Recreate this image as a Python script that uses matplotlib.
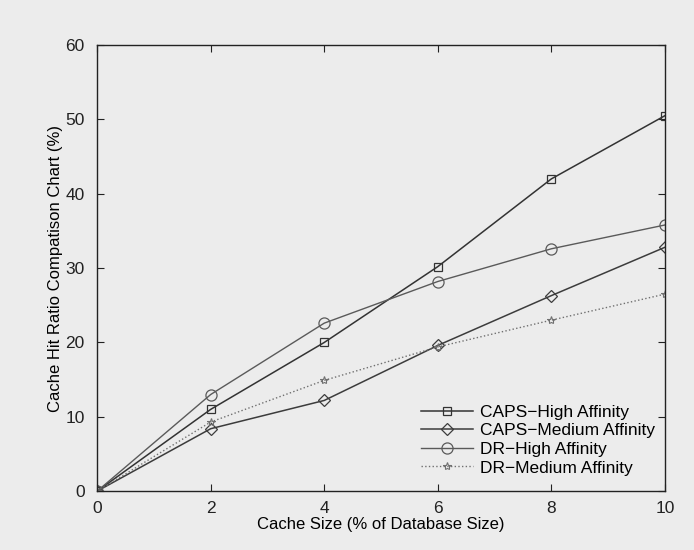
import matplotlib
matplotlib.use("Agg")
import matplotlib.pyplot as plt

x = [0, 2, 4, 6, 8, 10]
caps_high = [0, 11.0, 20.0, 30.2, 42.0, 50.5]
caps_med = [0, 8.4, 12.2, 19.6, 26.3, 32.8]
dr_high = [0, 13.0, 22.6, 28.2, 32.6, 35.8]
dr_med = [0, 9.3, 14.9, 19.4, 23.0, 26.5]
labels = ["CAPS\u2212High Affinity", "CAPS\u2212Medium Affinity",
          "DR\u2212High Affinity", "DR\u2212Medium Affinity"]

plt.rcParams['font.family'] = ['Liberation Sans', 'DejaVu Sans']
bg = "#ececec"
fig = plt.figure(figsize=(6.94, 5.5), dpi=100, facecolor=bg)
ax = fig.add_axes([0.140, 0.107, 0.818, 0.811], facecolor=bg)

ax.plot(x, caps_high, color="#333333", lw=1.1, marker="s", ms=6, mfc="none", mec="#333333", mew=0.9, label=labels[0])
ax.plot(x, caps_med, color="#3c3c3c", lw=1.1, marker="D", ms=6, mfc="none", mec="#3c3c3c", mew=0.9, label=labels[1])
ax.plot(x, dr_high, color="#5a5a5a", lw=1.0, marker="o", ms=8, mfc="none", mec="#5a5a5a", mew=0.9, label=labels[2])
ax.plot(x, dr_med, color="#707070", lw=1.0, ls=":", marker="*", ms=6, mfc="none", mec="#707070", mew=0.8, label=labels[3])

ax.set_xlim(0, 10)
ax.set_ylim(0, 60)
ax.set_xticks([0, 2, 4, 6, 8, 10])
ax.set_yticks([0, 10, 20, 30, 40, 50, 60])
ax.tick_params(direction="in", top=True, right=True, labelsize=12.5, length=5, colors="#222222")
ax.tick_params(axis="x", pad=7)
ax.tick_params(axis="y", pad=9)
for s in ax.spines.values():
    s.set_color("#222222")
    s.set_linewidth(1.0)
ax.set_xlabel("Cache Size (% of Database Size)", fontsize=12, labelpad=1)
ax.set_ylabel("Cache Hit Ratio Compatison Chart (%)", fontsize=12, labelpad=2)

leg = ax.legend(loc="lower right", bbox_to_anchor=(1.01, 0.0), frameon=False, fontsize=12.5,
                handlelength=3.0, labelspacing=0.2, handletextpad=0.4)

fig.savefig("out.png", dpi=100, facecolor=bg)
